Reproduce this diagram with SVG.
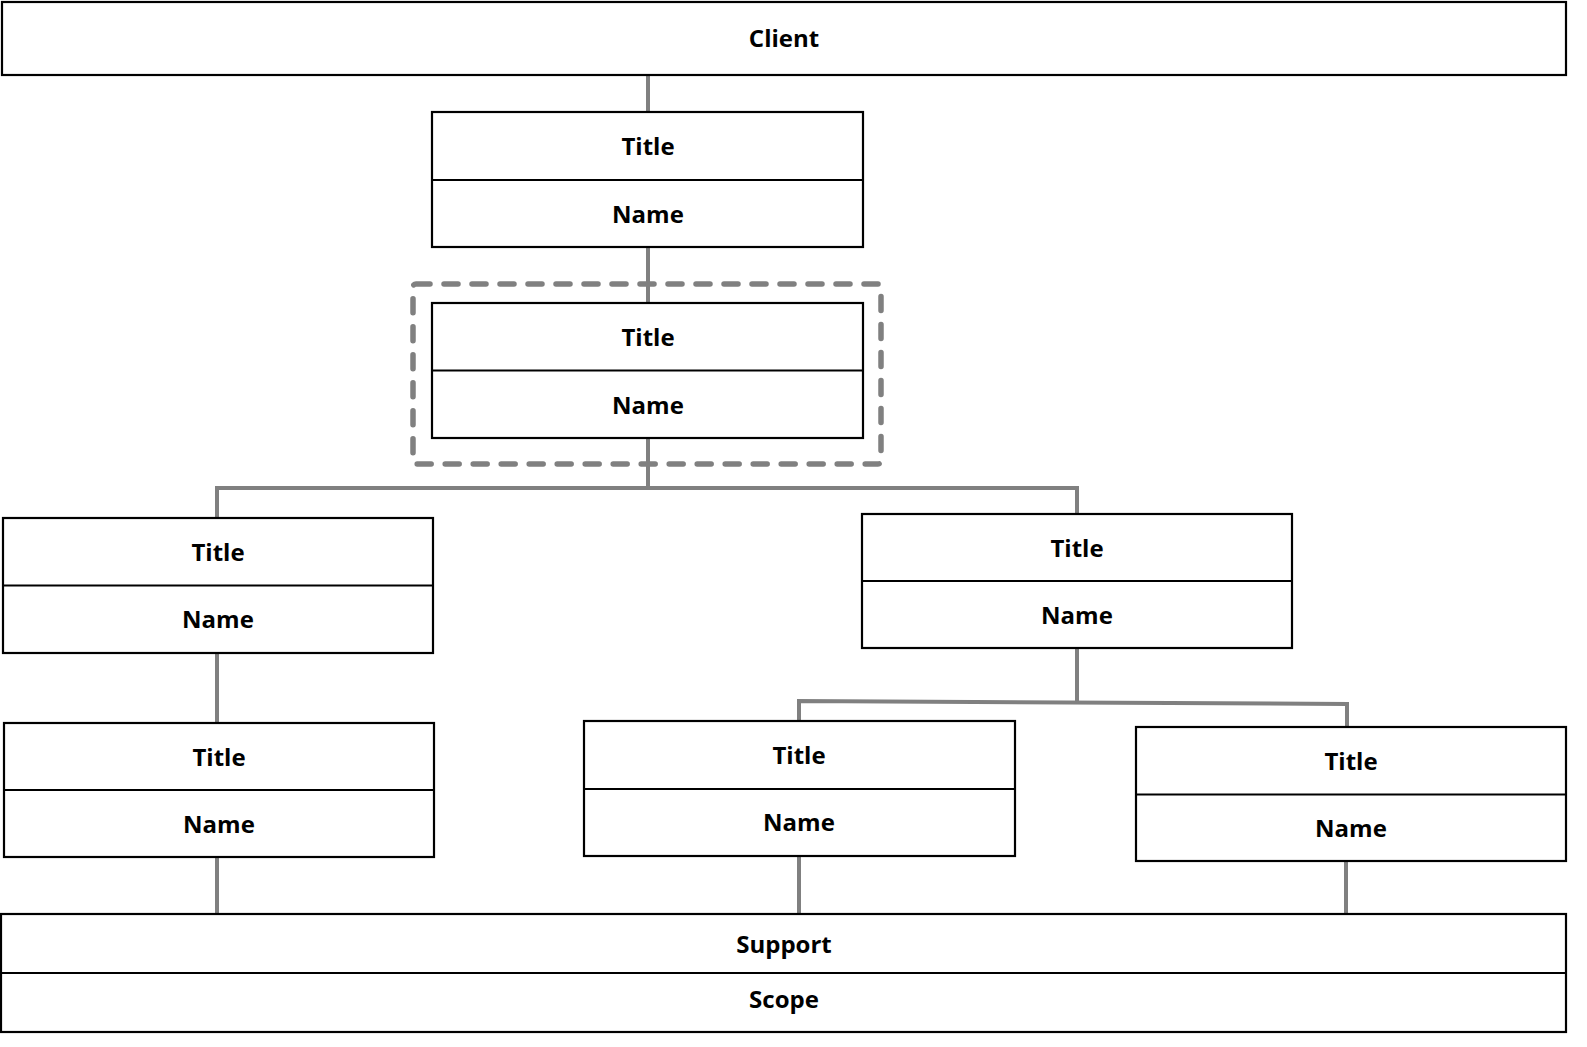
<svg xmlns="http://www.w3.org/2000/svg" width="1587" height="1047" viewBox="0 0 1587 1047">
<style>
.box{fill:#fff;stroke:#000;stroke-width:2.2}
.div{stroke:#000;stroke-width:2.2;fill:none}
.t{font-family:"Open Sans","Liberation Sans",sans-serif;font-weight:700;font-size:24px;text-anchor:middle;fill:#000}
.c{stroke:#808080;stroke-width:4;fill:none}
.dash{fill:none;stroke:#808080;stroke-width:5.5;stroke-dasharray:14 14;stroke-linecap:round}
</style>
<rect width="1587" height="1047" fill="#fff"/>
<g id="connectors">
<line class="c" x1="648" y1="75" x2="648" y2="112"/>
<line class="c" x1="648" y1="247" x2="648" y2="303"/>
<line class="c" x1="648" y1="438" x2="648" y2="488"/>
<polyline class="c" points="217,518 217,488 1077,488 1077,514"/>
<line class="c" x1="217" y1="653" x2="217" y2="723"/>
<line class="c" x1="1077" y1="648" x2="1077" y2="702.5"/>
<polyline class="c" points="799,721 799,701 1347,704 1347,727"/>
<line class="c" x1="217" y1="857" x2="217" y2="914"/>
<line class="c" x1="799" y1="856" x2="799" y2="914"/>
<line class="c" x1="1346" y1="861" x2="1346" y2="914"/>
</g>
<g id="highlight">
<rect class="dash" x="413" y="284" width="468" height="180" rx="3"/>
</g>
<g id="client">
<rect class="box" x="2" y="2" width="1564" height="73"/>
<text class="t" x="784" y="47">Client</text>
</g>
<g id="node1">
<rect class="box" x="432" y="112" width="431" height="135"/>
<line class="div" x1="432" y1="180" x2="863" y2="180"/>
<text class="t" x="648" y="155">Title</text>
<text class="t" x="648" y="223">Name</text>
</g>
<g id="node2">
<rect class="box" x="432" y="303" width="431" height="135"/>
<line class="div" x1="432" y1="370.5" x2="863" y2="370.5"/>
<text class="t" x="648" y="346">Title</text>
<text class="t" x="648" y="414">Name</text>
</g>
<g id="node3">
<rect class="box" x="3" y="518" width="430" height="135"/>
<line class="div" x1="3" y1="585.5" x2="433" y2="585.5"/>
<text class="t" x="218" y="561">Title</text>
<text class="t" x="218" y="628">Name</text>
</g>
<g id="node4">
<rect class="box" x="862" y="514" width="430" height="134"/>
<line class="div" x1="862" y1="581" x2="1292" y2="581"/>
<text class="t" x="1077" y="557">Title</text>
<text class="t" x="1077" y="624">Name</text>
</g>
<g id="node5">
<rect class="box" x="4" y="723" width="430" height="134"/>
<line class="div" x1="4" y1="790" x2="434" y2="790"/>
<text class="t" x="219" y="766">Title</text>
<text class="t" x="219" y="833">Name</text>
</g>
<g id="node6">
<rect class="box" x="584" y="721" width="431" height="135"/>
<line class="div" x1="584" y1="789" x2="1015" y2="789"/>
<text class="t" x="799" y="764">Title</text>
<text class="t" x="799" y="831">Name</text>
</g>
<g id="node7">
<rect class="box" x="1136" y="727" width="430" height="134"/>
<line class="div" x1="1136" y1="794.5" x2="1566" y2="794.5"/>
<text class="t" x="1351" y="770">Title</text>
<text class="t" x="1351" y="837">Name</text>
</g>
<g id="support">
<rect class="box" x="1" y="914" width="1565" height="118"/>
<line class="div" x1="1" y1="973" x2="1566" y2="973"/>
<text class="t" x="784" y="953">Support</text>
<text class="t" x="784" y="1008">Scope</text>
</g>
</svg>
